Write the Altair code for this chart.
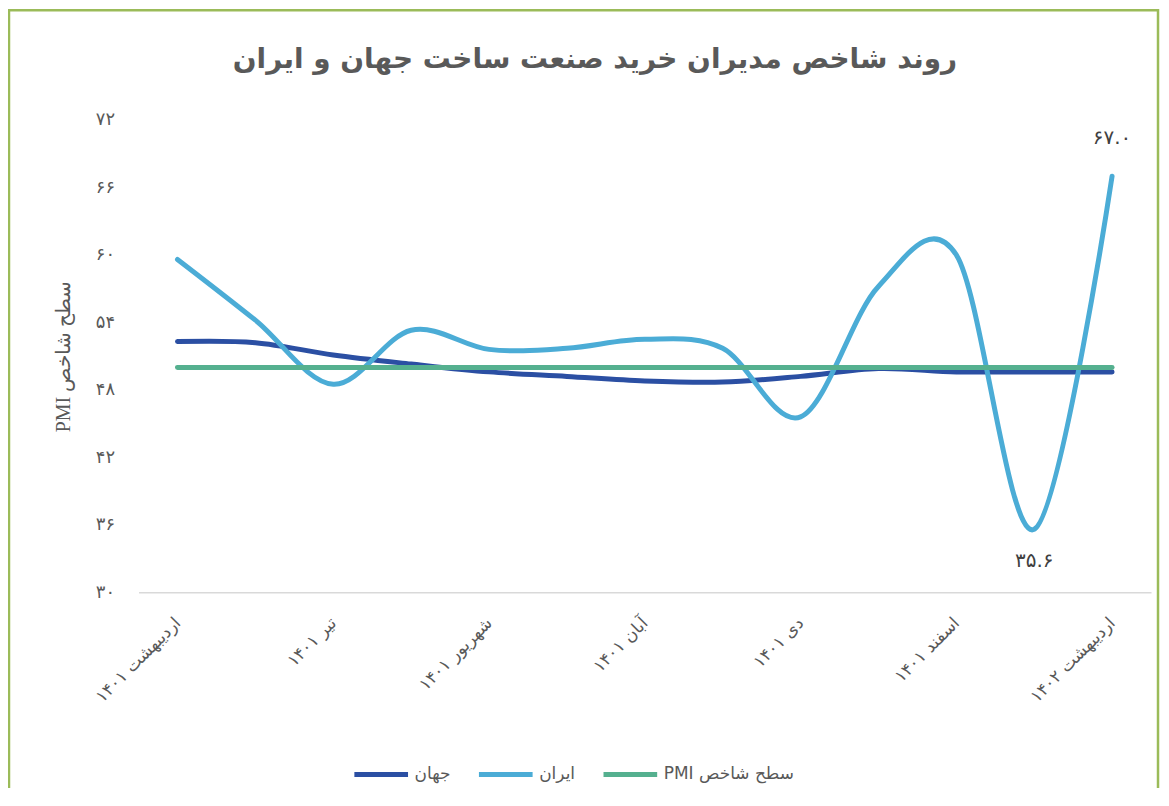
import altair as alt
import pandas as pd

FA = str.maketrans("0123456789", "۰۱۲۳۴۵۶۷۸۹")


def fa(s):
    return str(s).translate(FA)


months = ["اردیبهشت ۱۴۰۱", "خرداد ۱۴۰۱", "تیر ۱۴۰۱", "مرداد ۱۴۰۱", "شهریور ۱۴۰۱",
          "مهر ۱۴۰۱", "آبان ۱۴۰۱", "آذر ۱۴۰۱", "دی ۱۴۰۱", "بهمن ۱۴۰۱",
          "اسفند ۱۴۰۱", "فروردین ۱۴۰۲", "اردیبهشت ۱۴۰۲"]
world = [52.3, 52.2, 51.1, 50.3, 49.6, 49.2, 48.8, 48.7, 49.2, 49.9, 49.6, 49.6, 49.6]
iran = [59.6, 54.2, 48.5, 53.3, 51.6, 51.7, 52.5, 51.7, 45.6, 57.2, 60.0, 35.6, 67.0]
pmi_level = [50, 50, 50, 50, 50, 50, 50, 50, 50, 50, 50, 50, 50]

series_names = ["جهان", "ایران", "\u202bسطح شاخص PMI\u202c"]
series_colors = ["#2B4FA3", "#4BACD6", "#55B08F"]
y_ticks = [30, 36, 42, 48, 54, 60, 66, 72]
x_ticks = [0, 2, 4, 6, 8, 10, 12]
labelled_points = [11, 12]

rows = []
for name, vals in zip(series_names, [world, iran, pmi_level]):
    for i, v in enumerate(vals):
        rows.append({"idx": i, "series": name, "value": v})
df = pd.DataFrame(rows)

lab = pd.DataFrame({
    "idx": labelled_points,
    "value": [iran[i] for i in labelled_points],
    "text": [fa(f"{iran[i]:.1f}") for i in labelled_points],
})

month_arr = "[" + ",".join("'" + m + "'" for m in months) + "]"
ytick_arr = "[" + ",".join("'" + fa(v) + "'" for v in y_ticks) + "]"

FONT = "DejaVu Sans"
GREY = "#595959"

x_enc = alt.X("idx:Q",
              scale=alt.Scale(domain=[-0.5, 12.5], nice=False, zero=False),
              axis=alt.Axis(values=x_ticks, labelExpr=month_arr + "[datum.value]",
                            title=None, grid=False, ticks=False,
                            domainColor="#D9D9D9", domainWidth=1.5,
                            labelAngle=315, labelAlign="right", labelBaseline="middle",
                            labelPadding=28, labelFontSize=17, labelColor=GREY,
                            labelFont=FONT))
y_enc = alt.Y("value:Q",
              scale=alt.Scale(domain=[30, 72], nice=False, zero=False),
              axis=alt.Axis(values=y_ticks,
                            labelExpr=ytick_arr + "[(datum.value-30)/6]",
                            title="\u202bسطح شاخص PMI\u202c", titleFont="Liberation Serif",
                            titleFontSize=20, titleFontWeight="normal", titleColor=GREY,
                            titlePadding=22, grid=False, ticks=False, domain=False,
                            labelPadding=24, labelFontSize=18, labelColor=GREY,
                            labelFont=FONT))

lines = alt.Chart(df).mark_line(interpolate="cardinal", strokeWidth=5,
                                strokeCap="round", strokeJoin="round").encode(
    x=x_enc,
    y=y_enc,
    color=alt.Color("series:N",
                    scale=alt.Scale(domain=series_names, range=series_colors),
                    sort=series_names,
                    legend=alt.Legend(title=None, orient="none", legendX=214, legendY=627,
                                      direction="horizontal", symbolType="stroke",
                                      symbolSize=2900, symbolStrokeWidth=5,
                                      labelFontSize=17, labelColor=GREY, labelFont=FONT,
                                      labelOffset=4, columnPadding=17)),
    order=alt.Order("idx:Q"),
)

label_top = alt.Chart(lab).transform_filter(alt.datum.idx == 12).mark_text(
    fontSize=20, font=FONT, color="#404040", baseline="middle", dy=-38
).encode(x="idx:Q", y="value:Q", text="text:N")

label_bottom = alt.Chart(lab).transform_filter(alt.datum.idx == 11).mark_text(
    fontSize=20, font=FONT, color="#404040", baseline="middle", dy=32
).encode(x="idx:Q", y="value:Q", text="text:N")

border = alt.Chart(pd.DataFrame({"a": [0]})).mark_rect(
    fill=None, stroke="#9BBB59", strokeWidth=2.5
).encode(x=alt.value(-130), x2=alt.value(1023), y=alt.value(-110), y2=alt.value(700))

chart = alt.layer(border, lines, label_top, label_bottom).properties(
    width=1016, height=474,
    autosize=alt.AutoSizeParams(type="none"),
    padding={"left": 131, "top": 111, "right": 10, "bottom": 195},
    title=alt.TitleParams("روند شاخص مدیران خرید صنعت ساخت جهان و ایران",
                          fontSize=28, font=FONT, fontWeight="bold", color=GREY,
                          anchor="middle", dx=-50, offset=0, dy=65),
).configure_view(stroke=None)

chart.save("out.html", embed_options={"renderer": "svg", "actions": False})
